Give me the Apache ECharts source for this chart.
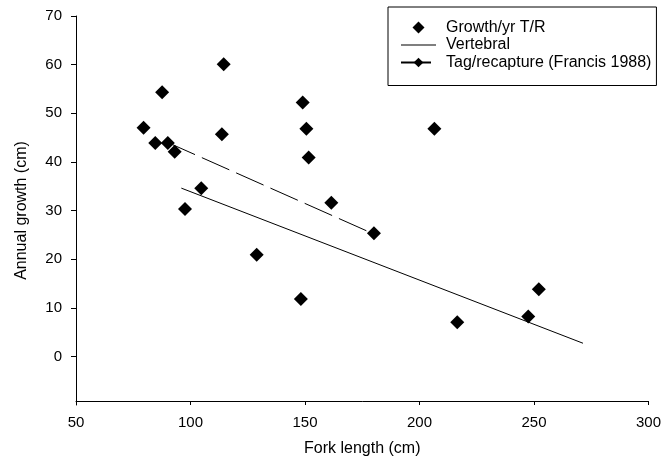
<!DOCTYPE html>
<html lang="en">
<head>
    <meta charset="UTF-8">
    <title>Annual growth vs fork length</title>
    <script src="https://cdn.jsdelivr.net/npm/echarts@6/dist/echarts.min.js"></script>
    <style>
        html, body { margin: 0; background: #fff; }
        #main { width: 664px; height: 470px; }
    </style>
</head>
<body>
    <div id="main"></div>
    <script>
        // tag/recapture points (fork length cm, growth cm/yr)
        var forkTR   = [79.5, 84.6, 87.6, 90.1, 93.1, 97.6, 104.7, 113.7, 114.5, 128.9,
                        148.2, 149.0, 150.6, 151.6, 161.5, 180.1, 206.5, 216.5, 247.5, 252.1];
        var growthTR = [47.0, 43.9, 54.3, 43.9, 42.1, 30.3, 34.6, 45.7, 60.1, 20.9,
                        11.8, 52.2, 46.8, 40.9, 31.6, 25.3, 46.8, 7.0, 8.2, 13.8];

        // fitted lines (end points)
        var vertebralX = [96.0, 271.4];
        var vertebralY = [34.6, 2.7];
        var francisX = [90.0, 177.0];
        var francisY = [44.0, 25.8];

        var yTicks = [0, 10, 20, 30, 40, 50, 60, 70];

        var font = 'Liberation Sans, Arial, sans-serif';

        function pairs(xs, ys) {
            return xs.map(function (x, i) { return [x, ys[i]]; });
        }

        var option = {
            backgroundColor: '#fff',
            animation: false,
            grid: { left: 76, right: 12, top: 16, bottom: 65 },
            legend: {
                orient: 'vertical',
                left: 388,
                top: 7,
                padding: [12.5, 5, 15, 12],
                borderColor: '#000',
                borderWidth: 1,
                itemWidth: 35,
                itemHeight: 12,
                itemGap: 1.5,
                symbolKeepAspect: true,
                textStyle: { fontSize: 16, color: '#000', fontFamily: font, padding: [0, 0, 0, 5] },
                data: [
                    { name: 'Growth/yr T/R', icon: 'path://M5,0L10,5L5,10L0,5Z' },
                    { name: 'Vertebral', icon: 'path://M0,0H70V2H0Z' },
                    { name: 'Tag/recapture (Francis 1988)' }
                ]
            },
            xAxis: {
                type: 'value',
                min: 50,
                max: 300,
                interval: 50,
                offset: -4,
                name: 'Fork length (cm)',
                nameLocation: 'middle',
                nameGap: 40,
                nameTextStyle: { fontSize: 16, color: '#000', fontFamily: font },
                axisLine: { show: true, onZero: false, lineStyle: { color: '#000', width: 1 } },
                axisTick: { show: true, length: 4, lineStyle: { color: '#000' } },
                axisLabel: { fontSize: 15, color: '#000', fontFamily: font, margin: 14 },
                splitLine: { show: false }
            },
            yAxis: {
                type: 'value',
                min: -10,
                max: 70,
                interval: 10,
                name: 'Annual growth (cm)',
                nameLocation: 'middle',
                nameGap: 46,
                nameTextStyle: { fontSize: 16, color: '#000', fontFamily: font },
                axisLine: { show: true, onZero: false, lineStyle: { color: '#000', width: 1 } },
                axisTick: { show: true, length: 5, customValues: yTicks, lineStyle: { color: '#000' } },
                axisLabel: {
                    fontSize: 15, color: '#000', fontFamily: font, margin: 14,
                    customValues: yTicks,
                    formatter: function (v) { return v < 0 ? '' : v; }
                },
                splitLine: { show: false }
            },
            series: [
                {
                    name: 'Growth/yr T/R',
                    type: 'scatter',
                    symbol: 'diamond',
                    symbolSize: 14,
                    z: 5,
                    itemStyle: { color: '#000', opacity: 1 },
                    data: pairs(forkTR, growthTR)
                },
                {
                    name: 'Vertebral',
                    type: 'line',
                    showSymbol: false,
                    symbol: 'none',
                    itemStyle: { color: '#000' },
                    lineStyle: { color: '#000', width: 1 },
                    data: pairs(vertebralX, vertebralY)
                },
                {
                    name: 'Tag/recapture (Francis 1988)',
                    type: 'line',
                    symbol: 'diamond',
                    showSymbol: false,
                    itemStyle: { color: '#000' },
                    lineStyle: { color: '#000', width: 1, type: [30, 7.5] },
                    data: pairs(francisX, francisY)
                }
            ]
        };

        var myChart = echarts.init(document.getElementById('main'));
        myChart.setOption(option);
    </script>
</body>
</html>
